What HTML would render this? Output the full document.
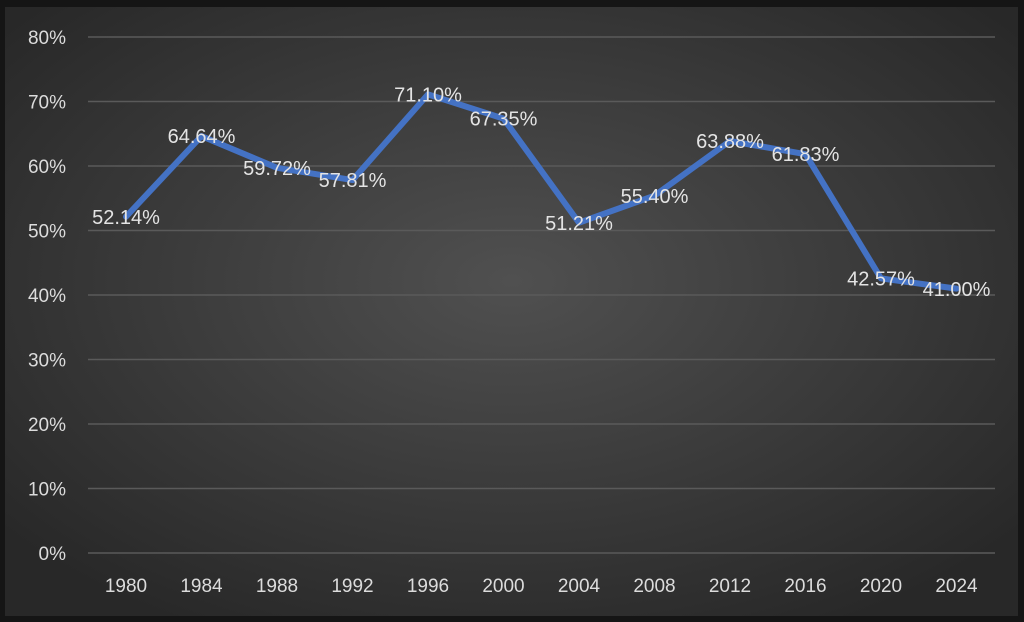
<!DOCTYPE html>
<html><head><meta charset="utf-8"><style>
html,body{margin:0;padding:0;background:#111;}
svg{display:block;font-family:"Liberation Sans",sans-serif;}
</style></head><body>
<svg width="1024" height="622" viewBox="0 0 1024 622">
<defs>
<radialGradient id="bg" cx="50%" cy="45%" r="65%">
<stop offset="0" stop-color="#505050"/>
<stop offset="1" stop-color="#282828"/>
</radialGradient>
</defs>
<rect x="0" y="0" width="1024" height="622" fill="#151515"/>
<rect x="5" y="7" width="1013" height="609" fill="url(#bg)"/>
<g stroke="#5a5a5a" stroke-width="1.5">
<line x1="88" x2="995" y1="37" y2="37"/>
<line x1="88" x2="995" y1="101.5" y2="101.5"/>
<line x1="88" x2="995" y1="166" y2="166"/>
<line x1="88" x2="995" y1="230.5" y2="230.5"/>
<line x1="88" x2="995" y1="295" y2="295"/>
<line x1="88" x2="995" y1="359.5" y2="359.5"/>
<line x1="88" x2="995" y1="424" y2="424"/>
<line x1="88" x2="995" y1="488.5" y2="488.5"/>
<line x1="88" x2="995" y1="553" y2="553"/>
</g>
<g fill="#dcdcdc" font-size="19" text-anchor="end">
<text x="66" y="44">80%</text>
<text x="66" y="108.5">70%</text>
<text x="66" y="173">60%</text>
<text x="66" y="237.5">50%</text>
<text x="66" y="302">40%</text>
<text x="66" y="366.5">30%</text>
<text x="66" y="431">20%</text>
<text x="66" y="495.5">10%</text>
<text x="66" y="560">0%</text>
</g>
<g fill="#dcdcdc" font-size="19" text-anchor="middle">
<text x="126" y="592">1980</text>
<text x="201.5" y="592">1984</text>
<text x="277" y="592">1988</text>
<text x="352.5" y="592">1992</text>
<text x="428" y="592">1996</text>
<text x="503.5" y="592">2000</text>
<text x="579" y="592">2004</text>
<text x="654.5" y="592">2008</text>
<text x="730" y="592">2012</text>
<text x="805.5" y="592">2016</text>
<text x="881" y="592">2020</text>
<text x="956.5" y="592">2024</text>
</g>
<polyline fill="none" stroke="#4472c4" stroke-width="6" stroke-linejoin="round" stroke-linecap="round"
points="126,216.7 201.5,136.1 277,167.8 352.5,180.1 428,94.4 503.5,118.6 579,222.7 654.5,195.7 730,141 805.5,154.2 881,278.4 956.5,288.6"/>
<g fill="#e4e4e4" font-size="20" text-anchor="middle">
<text x="126" y="224">52.14%</text>
<text x="201.5" y="143">64.64%</text>
<text x="277" y="175">59.72%</text>
<text x="352.5" y="187">57.81%</text>
<text x="428" y="101.5">71.10%</text>
<text x="503.5" y="125.5">67.35%</text>
<text x="579" y="230">51.21%</text>
<text x="654.5" y="203">55.40%</text>
<text x="730" y="148">63.88%</text>
<text x="805.5" y="161">61.83%</text>
<text x="881" y="285.5">42.57%</text>
<text x="956.5" y="296">41.00%</text>
</g>
</svg>
</body></html>
